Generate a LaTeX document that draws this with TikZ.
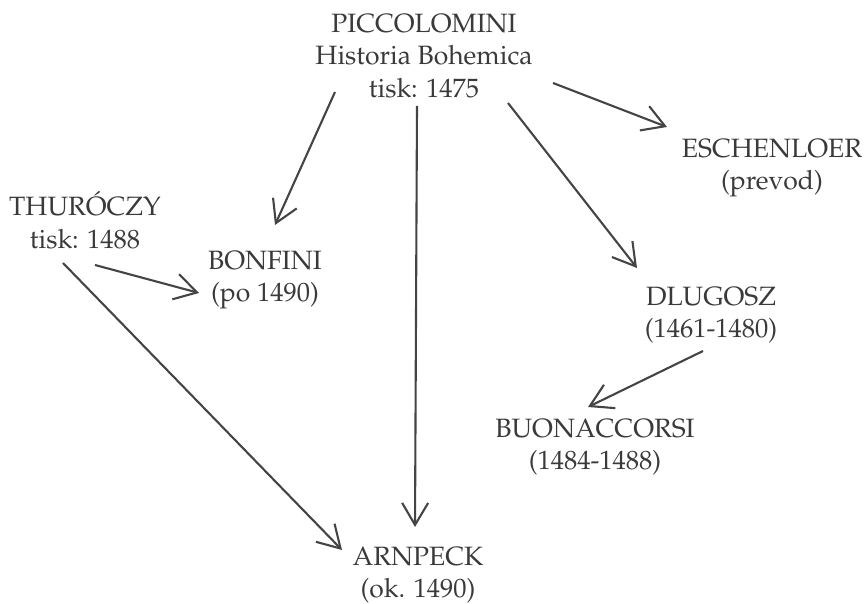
\documentclass[tikz,border=0pt]{standalone}
\usepackage[T1]{fontenc}
\usepackage{mathpazo}
\usepackage{tikz}
\usetikzlibrary{arrows.meta}
\definecolor{chronInk}{HTML}{3A3A3A}
\definecolor{chronLine}{HTML}{444444}

\begin{document}
\begin{tikzpicture}[x=1pt,y=1pt,
  src/.style={align=center,text=chronInk,inner sep=2pt,
              font=\fontsize{26.5}{32.5}\selectfont},
  arr/.style={draw=chronLine,line width=2.1pt,
              -{Straight Barb[length=22pt,width=26pt]}}]
  \useasboundingbox (0,0) rectangle (866,604);

  % sources
  \node[src] (picc) at (424,548) {PICCOLOMINI\\Historia Bohemica\\tisk: 1475};
  \node[src] (thur) at (85,384)  {THUR\'OCZY\\tisk: 1488};
  \node[src] (bonf) at (265,324) {BONFINI\\(po 1490)};
  \node[src] (esch) at (772,436) {ESCHENLOER\\(prevod)};
  \node[src] (dlug) at (711,289) {DLUGOSZ\\(1461-1480)};
  \node[src] (buon) at (595,157) {BUONACCORSI\\(1484-1488)};
  \node[src] (arn)  at (418,29)  {ARNPECK\\(ok. 1490)};

  % dependencies
  \draw[arr] ([shift={(-89,-36)}]picc.center) -- ([shift={(10,55)}]bonf.center);
  \draw[arr] ([shift={(-7,-50)}]picc.center) -- ([shift={(-3,48)}]arn.center);
  \draw[arr] ([shift={(129,-27)}]picc.center) -- ([shift={(-105,41)}]esch.center);
  \draw[arr] ([shift={(84,-47)}]picc.center) -- ([shift={(-74,47)}]dlug.center);
  \draw[arr] ([shift={(10,-45)}]thur.center) -- ([shift={(-66,-13)}]bonf.center);
  \draw[arr] ([shift={(-22,-43)}]thur.center) -- ([shift={(-76,25)}]arn.center);
  \draw[arr] ([shift={(-8,-36)}]dlug.center) -- ([shift={(-7,40)}]buon.center);
\end{tikzpicture}
\end{document}
